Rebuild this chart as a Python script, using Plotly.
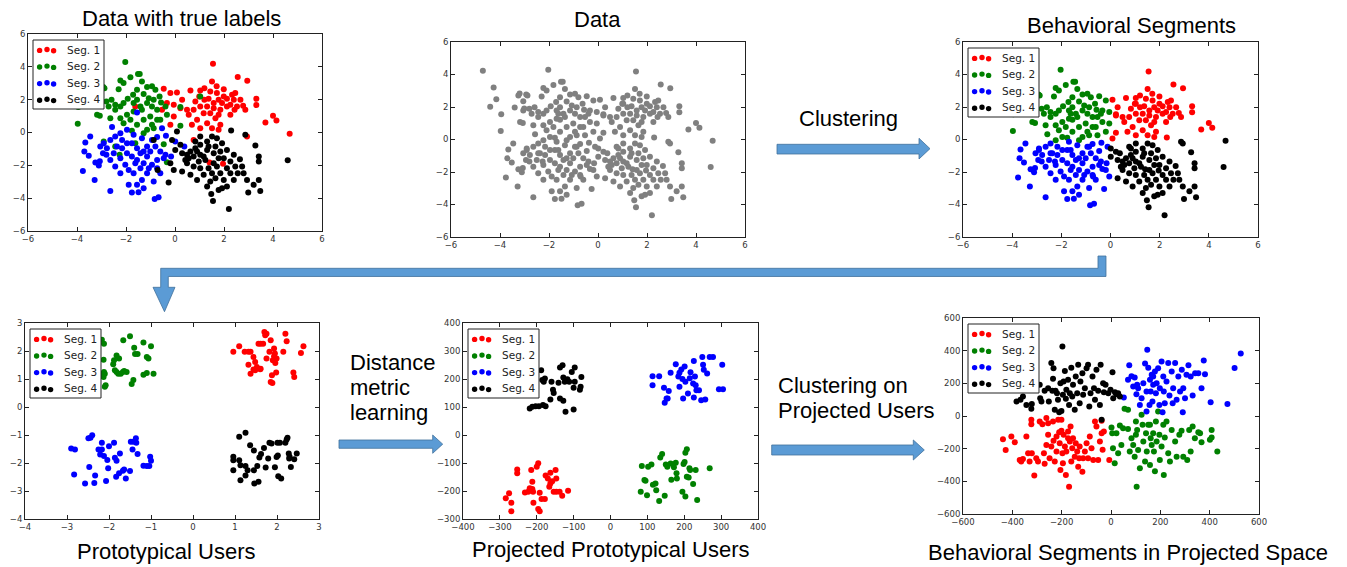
import plotly.graph_objects as go

# ---------------- DATA ----------------
seg_names = ["Seg. 1", "Seg. 2", "Seg. 3", "Seg. 4"]
seg_colors = ["#ff0000", "#008000", "#0000ff", "#000000"]
gray_color = "#808080"

# Raw data with true labels (top row)
top1_x = [1.55,2.56,2.95,1.51,1.70,1.20,1.03,0.63,0.08,-0.19,-0.46,1.99,2.33,2.46,2.67,3.32,3.32,2.87,2.78,0.99,
          1.37,1.78,2.12,1.58,2.26,2.53,1.85,1.44,1.65,2.26,1.03,0.76,0.49,0.22,-0.05,-0.33,0.29,0.56,0.90,0.69,
          1.03,1.31,1.85,1.78,1.51,0.83,1.20,1.99,1.71,1.44,2.40,2.43,2.12,1.92,1.31,1.17,1.58,1.78,3.69,4.00,
          4.14,4.68,2.94,0.76,1.96,1.41,-1.62,-0.19,-0.53,-0.05]
top1_y = [4.19,3.38,3.15,3.11,2.81,2.70,2.56,2.56,2.44,2.40,2.66,2.64,2.30,2.40,1.99,2.05,1.67,1.38,1.63,2.20,
          2.05,1.99,2.05,1.79,1.69,1.59,1.38,1.18,0.87,1.08,1.59,1.38,1.38,1.48,1.69,1.79,1.99,1.08,0.77,0.47,
          0.26,0.57,0.47,0.16,0.26,1.89,1.99,2.20,2.40,2.50,1.99,1.38,1.59,1.79,1.59,1.18,1.48,1.08,0.61,1.02,
          0.73,-0.08,-0.24,-0.45,-1.91,-1.83,1.59,0.47,1.38,0.98]
top2_x = [-2.03,-1.82,-1.44,-1.51,-1.35,-2.23,-2.10,-2.30,-2.88,-3.05,-2.80,-3.18,-3.07,-3.97,-2.64,-2.44,-2.23,-1.93,-1.71,-1.55,
          -1.28,-1.14,-0.94,-0.80,-0.63,-0.57,-0.39,-0.73,-0.94,-1.14,-1.35,-1.69,-1.96,-2.23,-2.10,-1.82,-1.55,-1.28,-1.01,-0.73,
          -1.14,-0.87,-0.60,-0.33,0.22,0.22,1.03,-2.59,-2.71,-2.44,-2.10,-1.69,-1.41,-1.07,-0.87,-1.55,-3.05,-3.25,-2.91,-2.44,
          -2.26,-0.46,-0.33,-1.62,-1.28,-1.76,-0.94,-4.70,-4.26,-4.15,-4.40,-3.95,-3.40,-3.20,-2.93,-3.01]
top2_y = [4.29,3.36,3.56,3.56,3.11,3.17,3.01,2.64,2.70,2.36,1.89,1.08,1.02,0.53,0.87,1.38,1.59,2.05,2.30,1.99,
          2.34,2.77,2.81,2.60,2.20,1.83,1.59,1.38,1.59,1.79,1.38,1.28,1.08,0.87,0.57,0.77,0.47,0.77,0.98,0.77,
          0.16,0.26,0.77,1.08,0.41,1.55,2.20,1.99,1.59,1.69,1.79,1.79,1.59,2.09,1.99,2.60,1.79,2.70,-0.55,-0.85,
          -1.36,-0.71,-1.81,-0.65,-0.04,0.10,0.47,4.23,3.20,2.48,2.01,1.56,1.97,2.83,2.77,1.91]
top3_x = [-1.55,-2.57,-3.46,-3.66,-3.70,-3.52,-3.76,-3.28,-3.25,-3.07,-3.11,-2.91,-2.78,-2.80,-2.64,-2.64,-2.44,-2.23,-2.16,-1.96,
          -1.69,-1.76,-1.55,-1.41,-1.96,-2.23,-2.03,-1.89,-1.69,-1.41,-1.28,-1.14,-1.01,-0.80,-0.60,-0.39,-0.73,-0.94,-1.14,-1.35,
          -1.55,-1.89,-1.76,-1.49,-1.28,-0.83,-0.67,-0.87,-0.60,-2.37,-2.50,-2.44,-2.23,-1.55,-1.28,-1.76,-1.62,-1.14,-0.94,-0.73,
          -0.53,-0.37,0.01,0.38,-0.16,-0.46,-1.35,-1.96,-2.16,-2.64,-3.05,-2.94,-1.07,-0.73]
top3_y = [1.22,0.33,-0.24,-0.61,-1.16,-1.42,-2.34,-2.89,-1.83,-1.75,-2.01,-0.65,-0.96,-1.36,-1.67,-3.56,-0.24,-0.04,-0.45,0.16,
          -0.14,-0.65,-0.96,-1.26,-1.26,-1.57,-1.97,-2.28,-2.48,-2.18,-1.87,-1.46,-1.16,-0.85,-1.16,-1.36,-1.67,-1.97,-2.48,-2.89,
          -3.19,-3.19,-3.66,-3.64,-3.40,-4.05,-3.95,-2.99,-2.48,-0.85,-1.26,-2.07,-2.48,-1.67,-1.16,-1.46,-1.87,-0.85,-0.45,-0.28,
          0.26,-0.20,-0.55,-0.85,-1.46,-1.57,-0.35,-0.65,-0.96,-0.45,-0.85,-1.26,-2.18,-2.18]
top4_x = [2.29,2.87,3.28,3.42,3.42,3.42,3.21,3.48,2.99,4.60,2.20,1.48,1.55,1.78,1.92,2.12,2.40,2.56,2.74,2.65,
          2.40,2.12,1.92,1.71,1.51,1.31,1.03,0.83,0.63,0.49,0.29,0.01,-0.19,-0.05,-0.26,0.29,0.63,0.90,1.17,1.37,
          1.58,1.78,1.58,1.31,1.17,0.97,0.76,1.03,0.49,0.56,0.76,1.03,1.37,1.65,1.85,1.99,2.26,2.12,1.85,1.65,
          1.44,1.31,1.99,2.26,2.46,0.08,-0.12,0.22,-0.87,-0.71,1.03,0.83,0.42,0.90,1.24,1.71,1.51,2.80,2.94]
top4_y = [0.12,-0.14,-0.79,-1.46,-1.77,-2.89,-3.19,-3.56,-3.66,-1.69,-4.66,-3.74,-4.17,-3.50,-3.40,-3.29,-2.89,-2.48,-2.07,-1.63,
          -1.36,-1.06,-0.65,-0.35,-0.24,-0.55,-0.75,-0.96,-1.16,-1.36,-1.26,-1.06,-1.87,-2.28,-3.05,-2.38,-2.58,-2.89,-2.58,-2.18,
          -1.87,-1.57,-1.26,-1.06,-1.46,-1.77,-2.07,-2.18,-1.87,-1.57,-1.46,-1.36,-0.85,-0.85,-1.16,-1.57,-1.77,-2.18,-2.48,-2.79,
          -2.99,-3.29,-2.89,-2.48,-2.07,0.06,-0.45,-0.75,-0.45,-2.28,-0.24,-0.55,-1.67,-1.16,-1.67,-2.07,-2.48,-2.48,-2.89]

# Cluster centres found by the clustering step (top right panel)
centre_x = [1.6, -1.6, -1.6, 1.6]
centre_y = [1.5, 1.5, -1.6, -1.6]

# Prototypical users
proto1_x = [0.96,1.10,1.23,1.32,1.37,1.32,1.44,1.48,1.37,1.48,1.52,1.44,1.61,1.56,1.61,1.67,1.70,1.75,1.72,1.75,
            1.82,1.85,1.90,1.93,1.95,1.93,1.96,1.98,1.88,1.85,1.89,2.20,2.23,2.15,2.39,2.41,2.57,2.63,1.60,1.99]
proto1_y = [1.97,2.17,1.97,1.97,1.97,1.51,1.79,1.61,1.19,1.31,1.43,1.34,1.37,2.26,2.26,2.26,2.68,2.62,2.56,1.73,
            1.97,2.38,1.67,2.09,1.91,1.81,1.57,1.23,1.13,0.89,0.86,2.62,2.35,1.97,1.23,1.07,1.93,2.17,1.35,1.73]
proto2_x = [-1.50,-1.66,-1.40,-1.38,-1.32,-1.18,-1.00,-1.10,-1.06,-0.94,-1.10,-1.18,-1.42,-1.46,-1.58,-1.64,-1.78,-1.82,-1.86,-1.76,
            -1.88,-1.90,-2.10,-2.08,-2.13,-2.12,-2.10,-2.13,-2.12,-2.17,-2.21,-1.72,-1.67,-1.82]
proto2_y = [2.53,2.38,2.12,1.89,1.89,2.30,2.17,1.79,1.73,1.19,1.21,1.15,0.96,0.82,1.25,1.29,1.19,1.25,1.31,1.73,
            1.67,1.53,0.72,0.78,1.07,1.25,1.19,1.69,2.26,2.40,1.19,1.19,1.25,1.84]
proto3_x = [-2.90,-2.81,-2.83,-2.47,-2.49,-2.44,-2.40,-2.57,-2.33,-2.35,-2.25,-2.21,-2.17,-2.17,-2.12,-2.07,-2.04,-2.02,-2.00,-1.88,
            -1.86,-1.83,-1.82,-1.76,-1.74,-1.67,-1.64,-1.60,-1.50,-1.48,-1.42,-1.36,-1.35,-1.32,-1.44,-1.18,-1.04,-1.02,-1.00,-1.10]
proto3_y = [-1.48,-1.52,-2.41,-2.14,-1.12,-1.10,-1.01,-2.73,-2.45,-2.71,-1.52,-1.70,-1.28,-1.52,-1.75,-2.64,-1.89,-2.19,-1.40,-1.28,
            -1.81,-2.49,-1.92,-2.37,-1.66,-2.28,-2.23,-2.55,-2.29,-1.24,-1.24,-1.12,-1.28,-1.68,-1.52,-2.10,-2.11,-1.78,-1.92,-2.11]
proto4_x = [0.96,0.96,0.96,1.10,1.10,1.13,1.13,1.25,1.25,1.25,1.30,1.36,1.45,1.45,1.46,1.53,1.56,1.58,1.62,1.69,
            1.73,1.82,1.87,1.95,1.99,2.02,2.01,2.07,2.03,2.10,2.20,2.23,2.25,2.28,2.29,2.33,2.41,2.47,2.30,1.79]
proto4_y = [-1.78,-1.90,-2.26,-1.06,-1.90,-2.08,-2.62,-0.92,-2.11,-2.45,-2.26,-1.37,-1.55,-2.26,-2.73,-2.11,-2.67,-1.80,-1.68,-1.46,
            -2.16,-1.28,-1.30,-2.15,-1.79,-1.73,-1.28,-1.28,-2.47,-2.55,-1.28,-1.16,-1.10,-1.66,-1.84,-2.14,-1.87,-1.66,-1.78,-1.84]

# Projected prototypical users
pp1_x = [-284,-275,-269,-269,-253,-253,-232,-215,-212,-210,-212,-209,-200,-196,-192,-196,-192,-187,-178,-176,
         -170,-166,-163,-163,-158,-154,-149,-147,-147,-138,-131,-115,-219,-223]
pp1_y = [-226,-208,-242,-272,-123,-137,-205,-125,-193,-203,-167,-242,-113,-101,-206,-264,-272,-229,-229,-145,
         -155,-185,-135,-173,-165,-203,-125,-155,-203,-203,-217,-199,-190,-203]
pp2_x = [82,85,92,99,102,111,115,122,124,132,135,140,147,150,154,163,165,170,172,177,
         179,180,195,198,201,203,207,203,207,212,214,216,224,231,235,269,95]
pp2_y = [-203,-111,-161,-215,-113,-105,-178,-173,-197,-236,-80,-68,-217,-105,-113,-102,-160,-105,-115,-99,
         -137,-155,-203,-104,-96,-63,-51,-220,-149,-152,-119,-125,-175,-125,-232,-119,-163]
pp3_x = [114,114,132,145,152,147,158,155,163,177,184,187,187,192,195,197,201,203,210,217,
         226,224,226,231,233,240,249,251,253,246,257,262,269,278,294,305,303,229,215]
pp3_y = [178,210,210,169,130,115,157,130,222,253,209,172,222,234,200,130,245,190,148,224,
         264,184,134,178,160,160,279,251,233,124,127,220,279,279,163,163,251,209,203]
pp4_x = [-219,-212,-203,-194,-183,-176,-188,-185,-181,-160,-156,-154,-163,-137,-128,-137,-130,-128,-124,-141,
         -122,-100,-105,-97,-100,-117,-112,-97,-81,-83,-79,-178]
pp4_y = [95,101,103,103,107,103,231,196,190,190,162,150,127,130,122,241,249,205,190,187,
         83,91,225,241,169,199,190,190,172,162,207,202]

# Behavioral segments in projected space
ps1_x = [-438,-427,-404,-390,-370,-364,-357,-343,-336,-330,-323,-323,-321,-311,-303,-296,-289,-278,-272,-269,
         -262,-255,-249,-242,-235,-233,-228,-221,-214,-210,-208,-205,-201,-201,-197,-195,-192,-187,-183,-181,
         -174,-170,-167,-164,-161,-157,-154,-147,-143,-137,-133,-129,-127,-116,-113,-106,-99,-93,-86,-79,
         -72,-65,-59,-52,-45,-38,-38,-34,-29,-7,-262,-221,-174,-255]
ps1_y = [-143,-208,-126,-160,-269,-279,-263,-126,-228,-279,-23,-50,-228,-365,-259,-279,-34,-50,-228,-292,
         -13,-44,-259,-187,-34,-152,-279,-218,-23,-99,-167,-330,-91,-23,-228,-289,-115,-187,-361,-218,
         -136,-433,-156,-64,-279,-197,-136,-249,-167,-218,-310,-259,-187,-341,-259,-218,-167,-259,-126,-197,
         -269,-34,-64,-269,-156,-105,-29,-207,-95,-269,-177,-126,-95,-115]
ps2_x = [2,5,8,15,22,29,36,42,49,55,69,69,76,83,90,96,101,104,106,110,
         117,124,128,131,138,142,145,151,158,161,165,171,174,178,182,185,191,196,198,205,
         212,214,218,225,232,239,246,260,266,277,286,293,309,317,323,331,340,354,361,367,
         401,408,431,408,158,101]
ps2_y = [-71,-105,-197,-289,-105,-228,-58,-177,-75,44,38,-79,-218,-136,-177,-249,-115,-433,-85,-208,
         -320,7,-54,-156,-279,-105,-218,-54,-300,-136,-177,-105,-218,-338,-34,-156,27,-115,-269,-187,
         -54,-361,-132,-34,-228,-279,-85,-156,-249,-115,-91,-249,-269,-85,-218,-64,-136,-99,-105,-160,
         -146,-85,-218,-132,-54,-34]
ps3_x = [52,69,74,83,90,96,103,110,117,124,131,138,144,147,151,156,158,161,165,168,
         171,178,182,185,191,196,198,205,209,212,214,218,225,232,237,246,250,252,260,266,
         273,280,287,291,293,300,306,314,323,331,341,354,367,376,381,404,472,501,526,144,171,106]
ps3_y = [113,222,310,243,181,236,133,170,68,109,201,322,150,406,296,68,222,150,252,89,
         191,272,140,201,293,68,170,334,23,242,150,78,211,324,126,272,78,170,324,99,
         242,150,283,23,170,109,252,310,242,126,262,262,170,340,256,84,74,294,382,28,242,191]
ps4_x = [-383,-367,-357,-343,-323,-321,-311,-289,-287,-269,-255,-252,-242,-238,-235,-233,-228,-225,-219,-215,
         -210,-205,-201,-197,-195,-192,-187,-183,-181,-174,-170,-167,-161,-157,-154,-147,-143,-137,-133,-127,
         -124,-116,-113,-106,-99,-93,-88,-83,-75,-69,-65,-59,-52,-45,-42,-38,-32,-29,-22,-11,
         -2,6,16,22,29,36,9,-282]
ps4_y = [89,99,120,68,44,73,160,191,109,154,170,89,324,154,228,293,38,154,140,99,
         23,201,31,426,130,211,276,105,160,222,68,140,296,120,191,38,242,140,314,78,
         211,262,130,170,293,314,58,140,242,170,99,283,154,68,314,-23,201,146,191,140,
         160,268,146,133,140,120,109,89]

# ---------------- FIGURE ----------------
W, H = 1347, 567
FONT_TXT = "Liberation Sans, Arial, sans-serif"
FONT_TICK = "DejaVu Sans, sans-serif"


def pxx(x):
    return x / W


def pxy(y):
    return 1 - y / H


# panel frames in pixels: left, right, top, bottom
panels = [
    dict(l=28, r=322, t=34, b=231, xr=[-6, 6], yr=[-6, 6], xd=2, yd=2),
    dict(l=451, r=745, t=42, b=237, xr=[-6, 6], yr=[-6, 6], xd=2, yd=2),
    dict(l=963, r=1258, t=42, b=237, xr=[-6, 6], yr=[-6, 6], xd=2, yd=2),
    dict(l=25, r=319, t=323, b=519, xr=[-4, 3], yr=[-4, 3], xd=1, yd=1),
    dict(l=463, r=758, t=323, b=519, xr=[-400, 400], yr=[-300, 400], xd=100, yd=100),
    dict(l=963, r=1259, t=318, b=514, xr=[-600, 600], yr=[-600, 600], xd=200, yd=200),
]

fig = go.Figure()
layout = dict(width=W, height=H, margin=dict(l=0, r=0, t=0, b=0, pad=0), autosize=False,
              paper_bgcolor="white", plot_bgcolor="white", showlegend=False)

for i, p in enumerate(panels, start=1):
    common = dict(showline=True, mirror="ticks", linecolor="#222", linewidth=1,
                  ticks="inside", ticklen=4, tickcolor="#222", showgrid=False, zeroline=False,
                  automargin=False,
                  tickfont=dict(family=FONT_TICK, size=8.5, color="#333"))
    layout["xaxis%d" % i] = dict(domain=[pxx(p["l"]), pxx(p["r"])], range=p["xr"], dtick=p["xd"],
                                 tick0=p["xr"][0], anchor="y%d" % i, **common)
    layout["yaxis%d" % i] = dict(domain=[pxy(p["b"]), pxy(p["t"])], range=p["yr"], dtick=p["yd"],
                                 tick0=p["yr"][0], anchor="x%d" % i, **common)
fig.update_layout(**layout)


def add_pts(i, xs, ys, color):
    fig.add_trace(go.Scatter(x=xs, y=ys, mode="markers", xaxis="x%d" % i, yaxis="y%d" % i,
                             marker=dict(size=6, color=color, line=dict(width=0)),
                             hoverinfo="skip", showlegend=False))


top_x = [top1_x, top2_x, top3_x, top4_x]
top_y = [top1_y, top2_y, top3_y, top4_y]

# Panel 1: true labels
for k in range(4):
    add_pts(1, top_x[k], top_y[k], seg_colors[k])

# Panel 2: all data in gray
all_x = [v for s in top_x for v in s]
all_y = [v for s in top_y for v in s]
add_pts(2, all_x, all_y, gray_color)

# Panel 3: clustering (nearest centre)
labels = [min(range(4), key=lambda k: (x - centre_x[k]) ** 2 + (y - centre_y[k]) ** 2)
          for x, y in zip(all_x, all_y)]
for k in range(4):
    add_pts(3, [x for x, l in zip(all_x, labels) if l == k],
            [y for y, l in zip(all_y, labels) if l == k], seg_colors[k])

for k, (xs, ys) in enumerate([(proto1_x, proto1_y), (proto2_x, proto2_y), (proto3_x, proto3_y), (proto4_x, proto4_y)]):
    add_pts(4, xs, ys, seg_colors[k])
for k, (xs, ys) in enumerate([(pp1_x, pp1_y), (pp2_x, pp2_y), (pp3_x, pp3_y), (pp4_x, pp4_y)]):
    add_pts(5, xs, ys, seg_colors[k])
for k, (xs, ys) in enumerate([(ps1_x, ps1_y), (ps2_x, ps2_y), (ps3_x, ps3_y), (ps4_x, ps4_y)]):
    add_pts(6, xs, ys, seg_colors[k])

shapes = []
annotations = []

# Legends (matplotlib-style with three scatter points)
for i in [1, 3, 4, 5, 6]:
    p = panels[i - 1]
    bl, bt = p["l"] + 5, p["t"] + 6
    shapes.append(dict(type="rect", xref="paper", yref="paper", layer="above",
                       x0=pxx(bl), x1=pxx(bl + 71), y0=pxy(bt + 69), y1=pxy(bt),
                       fillcolor="white", line=dict(color="#222", width=1)))
    for k in range(4):
        ry = bt + 9.5 + k * 16.6
        for dx, dy in [(6.6, 0.9), (14.0, 0.0), (20.6, 1.3)]:
            cx, cy, r = bl + dx, ry + dy, 2.7
            shapes.append(dict(type="circle", xref="paper", yref="paper", layer="above",
                               x0=pxx(cx - r), x1=pxx(cx + r), y0=pxy(cy + r), y1=pxy(cy - r),
                               fillcolor=seg_colors[k], line=dict(width=0)))
        annotations.append(dict(text=seg_names[k], xref="paper", yref="paper", x=pxx(bl + 32), y=pxy(ry),
                                xanchor="left", yanchor="middle", showarrow=False,
                                font=dict(family=FONT_TICK, size=10.5, color="#222")))

# Titles and step labels
texts = [
    ("Data with true labels", 181.5, 18.5, "center"),
    ("Data", 597.5, 19, "center"),
    ("Behavioral Segments", 1131.5, 25.6, "center"),
    ("Prototypical Users", 166.7, 551.6, "center"),
    ("Projected Prototypical Users", 611.3, 549, "center"),
    ("Behavioral Segments in Projected Space", 1128, 552.3, "center"),
    ("Clustering", 848, 118.5, "center"),
    ("Distance", 348, 362, "left"),
    ("metric", 348, 387, "left"),
    ("learning", 348, 412, "left"),
    ("Clustering on", 776, 385, "left"),
    ("Projected Users", 776, 410.5, "left"),
]
for t, x, y, anc in texts:
    annotations.append(dict(text=t, xref="paper", yref="paper", x=pxx(x), y=pxy(y),
                            xanchor=anc, yanchor="middle", showarrow=False,
                            font=dict(family=FONT_TXT, size=22, color="black")))


def path(pts):
    return "M " + " L ".join("%.5f,%.5f" % (pxx(a), pxy(b)) for a, b in pts) + " Z"


def h_arrow(x0, x_head, x_tip, by0, by1, hy0, hy1):
    cy = (hy0 + hy1) / 2
    return path([(x0, by0), (x_head, by0), (x_head, hy0), (x_tip, cy), (x_head, hy1), (x_head, by1), (x0, by1)])


arrow_fill = "#5b9bd5"
arrow_line = "#41719c"
arrow_paths = [
    h_arrow(777, 919, 930, 144.3, 154, 138.3, 159),
    h_arrow(339, 432.7, 442.7, 440, 448.3, 435, 453.3),
    h_arrow(771.7, 913.3, 924.3, 445, 455, 440, 460),
    path([(1098, 256), (1106, 256), (1106, 276.5), (168.3, 276.5), (168.3, 287.3), (175, 287.3),
          (164.5, 311.7), (153, 287.3), (160.7, 287.3), (160.7, 268.3), (1098, 268.3)]),
]
for ap in arrow_paths:
    shapes.append(dict(type="path", path=ap, xref="paper", yref="paper", layer="above",
                       fillcolor=arrow_fill, line=dict(color=arrow_line, width=0.8)))

fig.update_layout(shapes=shapes, annotations=annotations)
fig.write_html("out.html", config={"displayModeBar": False, "staticPlot": True},
               post_script="document.body.style.margin='0';document.body.style.overflow='hidden';")
